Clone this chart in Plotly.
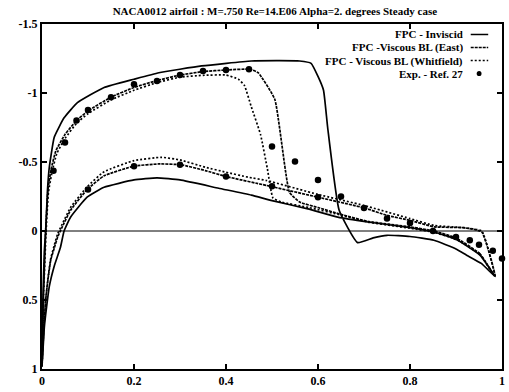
import plotly.graph_objects as go

# ---------------- data (x/c, Cp) ----------------
# Inviscid: upper surface LE->TE
inv_up_x = [0.0, 0.002, 0.005, 0.0084, 0.012, 0.0158, 0.0266, 0.048, 0.077, 0.135, 0.20, 0.254, 0.347, 0.455, 0.56, 0.585, 0.60, 0.612, 0.621, 0.646, 0.686, 0.72, 0.75, 0.80, 0.852, 0.90, 0.923, 0.955, 0.985]
inv_up_cp = [0.98, 0.50, 0.15, -0.03, -0.30, -0.46, -0.68, -0.82, -0.93, -1.04, -1.10, -1.147, -1.196, -1.232, -1.232, -1.215, -1.12, -1.02, -0.75, -0.15, 0.084, 0.05, 0.031, 0.04, 0.067, 0.13, 0.175, 0.235, 0.33]
# Inviscid: lower surface LE->TE
inv_lo_x = [0.0, 0.005, 0.01, 0.016, 0.027, 0.04, 0.048, 0.062, 0.098, 0.135, 0.20, 0.25, 0.30, 0.384, 0.455, 0.50, 0.578, 0.643, 0.708, 0.80, 0.852, 0.90, 0.952, 0.985]
inv_lo_cp = [0.98, 0.70, 0.55, 0.40, 0.25, 0.12, 0.0, -0.10, -0.245, -0.317, -0.37, -0.385, -0.37, -0.31, -0.26, -0.22, -0.16, -0.10, -0.065, -0.025, 0.007, 0.06, 0.175, 0.33]

# Viscous BL (East): upper and lower
east_up_x = [0.0, 0.003, 0.008, 0.013, 0.02, 0.03, 0.05, 0.075, 0.10, 0.15, 0.20, 0.25, 0.30, 0.35, 0.40, 0.452, 0.47, 0.506, 0.538, 0.56, 0.60, 0.65, 0.708, 0.80, 0.852, 0.90, 0.952, 0.985]
east_up_cp = [0.98, 0.50, 0.0, -0.30, -0.45, -0.58, -0.70, -0.80, -0.87, -0.97, -1.04, -1.09, -1.13, -1.155, -1.167, -1.172, -1.147, -0.955, -0.28, -0.21, -0.17, -0.12, -0.07, -0.03, 0.0, 0.05, 0.165, 0.33]
east_lo_x = [0.0, 0.004, 0.008, 0.013, 0.019, 0.027, 0.034, 0.044, 0.062, 0.098, 0.135, 0.20, 0.254, 0.302, 0.355, 0.40, 0.488, 0.60, 0.702, 0.75, 0.80, 0.852, 0.916, 0.956, 0.985]
east_lo_cp = [0.98, 0.70, 0.50, 0.35, 0.21, 0.12, 0.043, -0.03, -0.15, -0.30, -0.40, -0.47, -0.486, -0.48, -0.438, -0.395, -0.33, -0.245, -0.166, -0.113, -0.077, -0.03, -0.024, 0.007, 0.33]

# Viscous BL (Whitfield): upper and lower
whit_up_x = [0.0, 0.003, 0.009, 0.014, 0.022, 0.032, 0.05, 0.075, 0.10, 0.15, 0.20, 0.25, 0.30, 0.35, 0.40, 0.427, 0.44, 0.455, 0.475, 0.49, 0.502, 0.52, 0.58, 0.65, 0.708, 0.80, 0.852, 0.90, 0.952, 0.985]
whit_up_cp = [0.98, 0.50, 0.0, -0.28, -0.43, -0.56, -0.67, -0.78, -0.85, -0.95, -1.02, -1.075, -1.115, -1.128, -1.13, -1.10, -1.055, -0.90, -0.70, -0.45, -0.24, -0.21, -0.17, -0.115, -0.065, -0.02, 0.01, 0.06, 0.17, 0.33]
whit_lo_x = [0.0, 0.004, 0.008, 0.013, 0.019, 0.027, 0.034, 0.044, 0.062, 0.098, 0.135, 0.20, 0.26, 0.30, 0.355, 0.40, 0.448, 0.488, 0.60, 0.70, 0.80, 0.852, 0.916, 0.956, 0.985]
whit_lo_cp = [0.98, 0.70, 0.50, 0.34, 0.20, 0.10, 0.02, -0.05, -0.17, -0.32, -0.43, -0.51, -0.534, -0.515, -0.462, -0.426, -0.39, -0.366, -0.265, -0.185, -0.09, -0.04, -0.024, 0.0, 0.33]

# Experiment - Ref. 27
exp_x = [0.025, 0.05, 0.075, 0.10, 0.15, 0.20, 0.25, 0.30, 0.35, 0.40, 0.45, 0.50, 0.55, 0.60, 0.65,
         0.10, 0.20, 0.30, 0.40, 0.50, 0.60, 0.70, 0.75, 0.80, 0.85,
         0.90, 0.93, 0.95, 0.98, 1.0]
exp_cp = [-0.437, -0.642, -0.80, -0.876, -0.97, -1.063, -1.087, -1.13, -1.16, -1.167, -1.172, -0.613, -0.503, -0.37, -0.25,
          -0.30, -0.47, -0.48, -0.395, -0.325, -0.245, -0.166, -0.09, -0.058, 0.0,
          0.043, 0.067, 0.10, 0.144, 0.20]

title_text = "NACA0012 airfoil : M=.750 Re=14.E06 Alpha=2. degrees Steady case"
legend_labels = ["FPC - Inviscid", "FPC -Viscous BL (East)", "FPC - Viscous BL (Whitfield)", "Exp. - Ref. 27"]
x_ticks = [0, 0.2, 0.4, 0.6, 0.8, 1]
x_tick_text = ["0", "0.2", "0.4", "0.6", "0.8", "1"]
y_ticks = [-1.5, -1, -0.5, 0, 0.5, 1]
y_tick_text = ["-1.5", "-1", "-0.5", "0", "0.5", "1"]

FONT = "Liberation Serif"
styles = {
    "inv": dict(color="black", width=1.7, dash="solid"),
    "east": dict(color="black", width=1.7, dash="3px,1px"),
    "whit": dict(color="black", width=1.7, dash="2px,2px"),
}

fig = go.Figure()


def surf(xu, cu, xl, cl):
    xs = list(reversed(xu)) + xl[1:]
    cs = list(reversed(cu)) + cl[1:]
    return xs, cs


for key, (xu, cu, xl, cl) in {
    "inv": (inv_up_x, inv_up_cp, inv_lo_x, inv_lo_cp),
    "east": (east_up_x, east_up_cp, east_lo_x, east_lo_cp),
    "whit": (whit_up_x, whit_up_cp, whit_lo_x, whit_lo_cp),
}.items():
    xs, cs = surf(xu, cu, xl, cl)
    fig.add_trace(go.Scatter(x=xs, y=cs, mode="lines", line=dict(**styles[key], shape="spline", smoothing=0.4),
                             showlegend=False, hoverinfo="skip"))

fig.add_trace(go.Scatter(x=exp_x, y=exp_cp, mode="markers",
                         marker=dict(symbol="circle", size=6.5, color="black"),
                         showlegend=False, cliponaxis=False))

# zero line
fig.add_hline(y=0, line=dict(color="black", width=1))

# manual legend (text right-aligned with sample on the right)
leg_y = [0.9696, 0.9319, 0.8942, 0.8565]
samples = ["inv", "east", "whit", None]
for lab, yy, s in zip(legend_labels, leg_y, samples):
    fig.add_annotation(x=0.917, y=yy, xref="paper", yref="paper", text="<b>" + lab + "</b>", showarrow=False,
                       xanchor="right", yanchor="middle", borderpad=0, height=12,
                       font=dict(family=FONT, size=11, color="black"))
    if s is not None:
        fig.add_shape(type="line", xref="paper", yref="paper", x0=0.932, x1=0.97, y0=yy, y1=yy,
                      line=dict(color="black", width=1.5, dash=styles[s]["dash"]))
    else:
        fig.add_shape(type="circle", xref="paper", yref="paper", x0=0.945, x1=0.9555, y0=yy - 0.0075, y1=yy + 0.0075,
                      fillcolor="black", line=dict(color="black", width=0))

fig.update_layout(
    width=509, height=392,
    margin=dict(l=42, r=4, t=24, b=23),
    paper_bgcolor="white", plot_bgcolor="white",
    title=dict(text="<b>" + title_text + "</b>", x=0.54, xanchor="center", y=0.972, yanchor="middle",
               font=dict(family=FONT, size=11, color="black")),
    font=dict(family=FONT, size=12, color="black"),
    showlegend=False,
)
fig.update_xaxes(range=[0, 1], tickvals=x_ticks, ticktext=["<b>%s</b>" % t for t in x_tick_text],
                 showgrid=False, zeroline=False, showline=True, linecolor="black", linewidth=2,
                 mirror="ticks", ticks="inside", ticklen=5, tickwidth=1.5, tickcolor="black",
                 tickfont=dict(family=FONT, size=12))
fig.update_yaxes(range=[1, -1.5], tickvals=y_ticks, ticktext=["<b>%s</b>" % t for t in y_tick_text],
                 showgrid=False, zeroline=False, showline=True, linecolor="black", linewidth=2,
                 mirror="ticks", ticks="inside", ticklen=5, tickwidth=1.5, tickcolor="black",
                 tickfont=dict(family=FONT, size=12))

fig.write_html("out.html")
